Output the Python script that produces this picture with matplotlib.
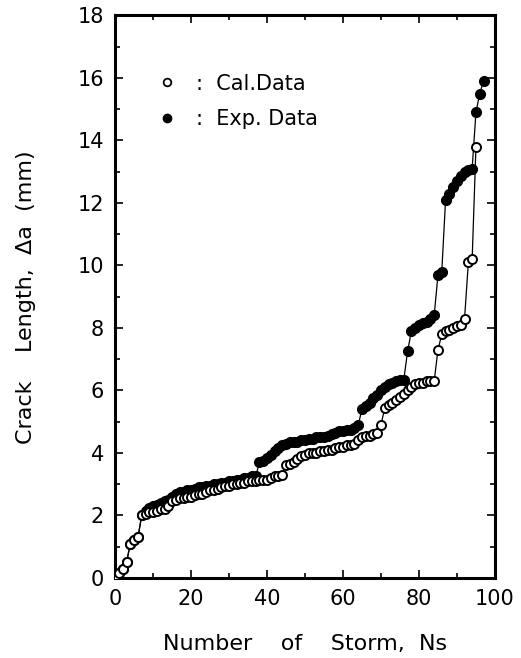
import numpy as np
import matplotlib.pyplot as plt
from matplotlib.lines import Line2D
from matplotlib.ticker import MultipleLocator

# Crack growth vs. number of storms
ns_exp = np.arange(0, 98)
exp_data = [0.0, 0.15, 0.3, 0.5, 1.1, 1.2, 1.3, 2.0, 2.15, 2.25,
            2.3, 2.35, 2.4, 2.45, 2.5, 2.6, 2.7, 2.75, 2.75, 2.8,
            2.8, 2.85, 2.9, 2.9, 2.95, 2.95, 3.0, 3.0, 3.05, 3.05,
            3.1, 3.1, 3.15, 3.15, 3.2, 3.2, 3.25, 3.25, 3.7, 3.75,
            3.85, 3.95, 4.05, 4.15, 4.25, 4.3, 4.35, 4.35, 4.35, 4.4,
            4.4, 4.45, 4.45, 4.5, 4.5, 4.5, 4.55, 4.6, 4.65, 4.7,
            4.7, 4.75, 4.75, 4.8, 4.9, 5.4, 5.5, 5.6, 5.75, 5.85,
            6.0, 6.1, 6.2, 6.25, 6.3, 6.35, 6.35, 7.25, 7.9, 8.0,
            8.1, 8.15, 8.2, 8.3, 8.4, 9.7, 9.8, 12.1, 12.3, 12.5,
            12.7, 12.85, 13.0, 13.05, 13.1, 14.9, 15.5, 15.9]

ns_cal = np.arange(0, 96)
cal_data = [0.0, 0.15, 0.3, 0.5, 1.1, 1.2, 1.3, 2.0, 2.05, 2.1,
            2.1, 2.15, 2.2, 2.2, 2.3, 2.45, 2.5, 2.55, 2.55, 2.6,
            2.6, 2.65, 2.7, 2.7, 2.75, 2.8, 2.8, 2.85, 2.9, 2.95,
            2.95, 3.0, 3.0, 3.05, 3.05, 3.1, 3.1, 3.1, 3.15, 3.15,
            3.15, 3.2, 3.25, 3.25, 3.3, 3.6, 3.65, 3.7, 3.8, 3.9,
            3.95, 4.0, 4.0, 4.0, 4.05, 4.05, 4.1, 4.1, 4.15, 4.2,
            4.2, 4.25, 4.25, 4.3, 4.4, 4.5, 4.55, 4.55, 4.6, 4.65,
            4.9, 5.45, 5.55, 5.6, 5.7, 5.8, 5.9, 6.0, 6.1, 6.2,
            6.25, 6.25, 6.3, 6.3, 6.3, 7.3, 7.8, 7.9, 7.95, 8.0,
            8.05, 8.1, 8.3, 10.1, 10.2, 13.8]

fig = plt.figure(figsize=(5.21, 6.58), dpi=100)
ax = fig.add_axes([0.221, 0.1216, 0.729, 0.855])

ax.plot(ns_cal, cal_data, '-o', color='black', lw=0.9, ms=6.5,
        mfc='white', mec='black', mew=1.4, zorder=3)
ax.plot(ns_exp, exp_data, '-o', color='black', lw=0.9, ms=7,
        mfc='black', mec='black', zorder=2)

ax.set_xlim(0, 100)
ax.set_ylim(0, 18)
ax.xaxis.set_major_locator(MultipleLocator(20))
ax.xaxis.set_minor_locator(MultipleLocator(10))
ax.yaxis.set_major_locator(MultipleLocator(2))
ax.yaxis.set_minor_locator(MultipleLocator(1))
ax.tick_params(which='both', direction='in', top=True, right=True,
               labelsize=15, width=1.2)
ax.tick_params(which='major', length=6, pad=8)
ax.tick_params(which='minor', length=3.5)
for s in ax.spines.values():
    s.set_linewidth(2.2)

ax.set_xlabel('Number    of    Storm,  Ns', fontsize=16, labelpad=18)
ax.set_ylabel('Crack    Length,  \u0394a  (mm)', fontsize=16, labelpad=30)

handles = [Line2D([], [], ls='none', marker='o', ms=5.5, mfc='white',
                  mec='black', mew=1.3),
           Line2D([], [], ls='none', marker='o', ms=6, mfc='black',
                  mec='black')]
ax.legend(handles, [':  Cal.Data', ':  Exp. Data'], loc='upper left',
          bbox_to_anchor=(0.06, 0.93), frameon=False, fontsize=15,
          handletextpad=0.9, labelspacing=0.75, handlelength=1.0)

fig.savefig('out.png', dpi=100)
